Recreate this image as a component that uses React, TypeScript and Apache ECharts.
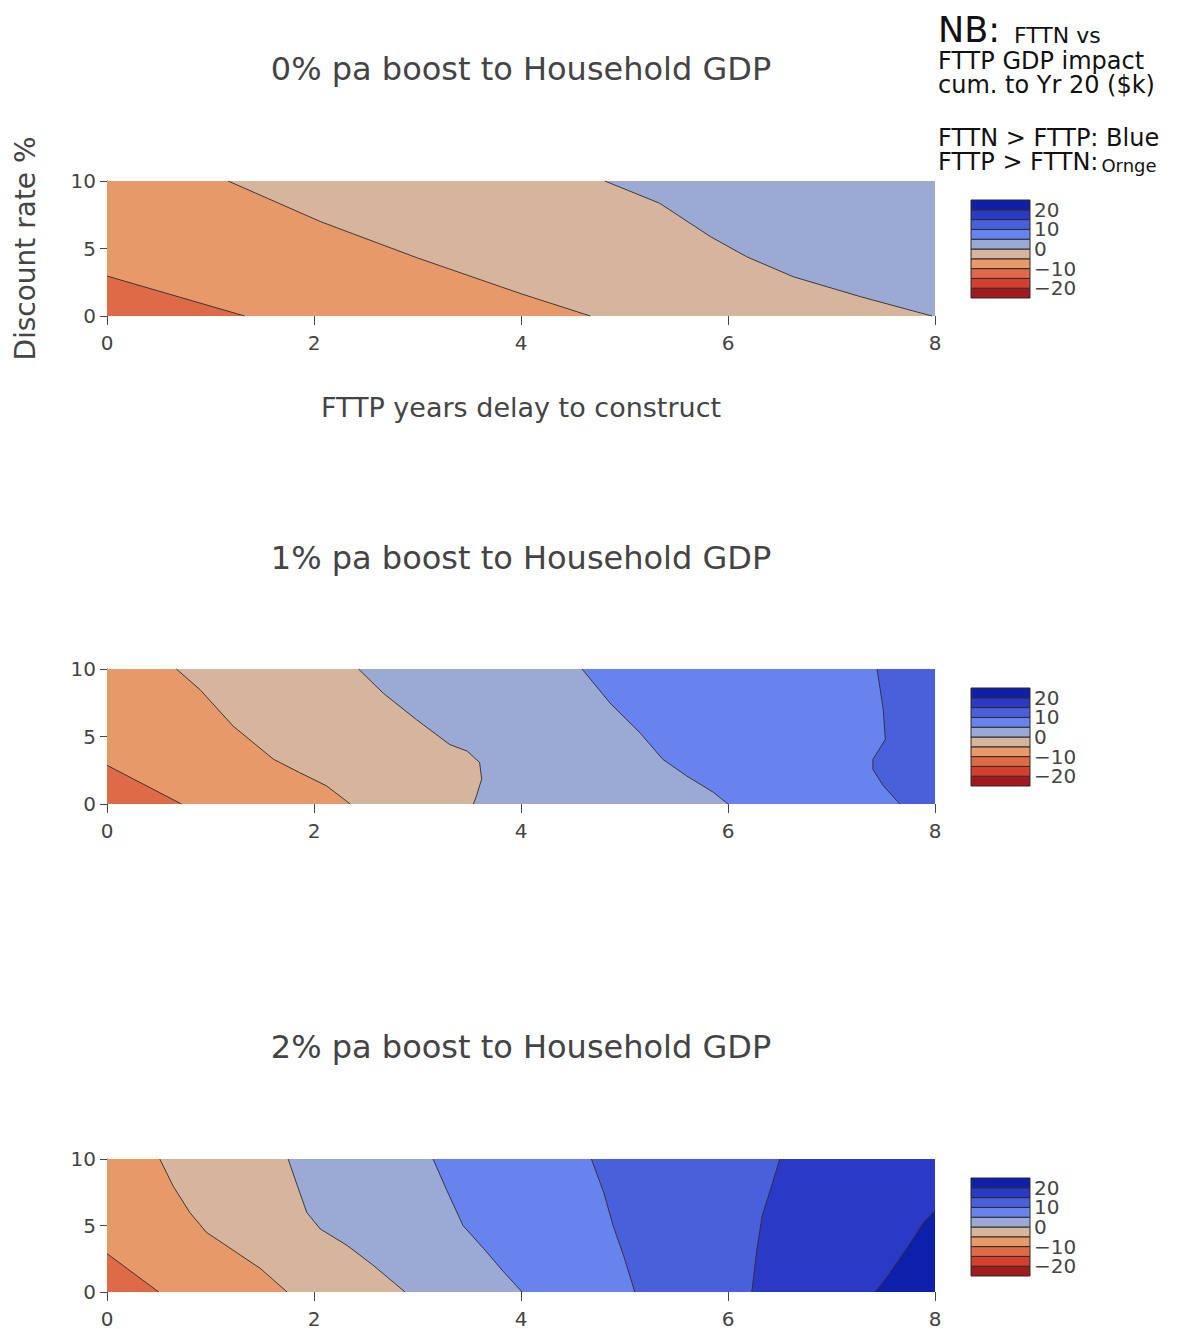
import React, { useEffect, useRef } from 'react';
import * as echarts from 'echarts';

// ---------- data ----------
const panelTitles = [
  '0% pa boost to Household GDP',
  '1% pa boost to Household GDP',
  '2% pa boost to Household GDP',
];
const xAxisTitle = 'FTTP years delay to construct';
const yAxisTitle = 'Discount rate %';

// contour bands (lower bound of each 5-wide band) and their colours
const bandLowerBounds = [-25, -20, -15, -10, -5, 0, 5, 10, 15, 20];
const bandColors = ['#a3191d', '#d4402d', '#df6a47', '#e7996a', '#d6b59c', '#9ba9d5', '#6783ee', '#4a60da', '#2b39c7', '#0e1fa9'];
const colorbarLabels = [-20, -10, 0, 10, 20];

// Panel 0: 0% boost — levels: base region then each contour line's upper band
const p0Levels = [-15, -10, -5, 0];
const p0LineM10 = [[0, 2.96], [1.33, 0]];
const p0LineM5 = [[1.17, 10], [2.06, 7.0], [3.0, 4.3], [4.0, 1.65], [4.67, 0]];
const p0Line0 = [[4.81, 10], [5.34, 8.35], [5.83, 5.88], [6.18, 4.39], [6.63, 2.91], [7.28, 1.43], [7.97, 0]];

// Panel 1: 1% boost
const p1Levels = [-15, -10, -5, 0, 5, 10];
const p1LineM10 = [[0, 2.87], [0.72, 0]];
const p1LineM5 = [[0.67, 10], [0.9, 8.46], [1.22, 5.76], [1.61, 3.31], [1.86, 2.33], [2.12, 1.35], [2.35, 0]];
const p1Line0 = [[2.43, 10], [2.67, 8.2], [2.99, 6.25], [3.31, 4.41], [3.48, 3.92], [3.6, 3.07], [3.62, 1.84], [3.57, 0.61], [3.54, 0]];
const p1Line5 = [[4.59, 10], [4.86, 7.48], [5.15, 5.27], [5.37, 3.31], [5.6, 2.08], [5.86, 0.86], [6.0, 0]];
const p1Line10 = [[7.44, 10], [7.5, 6.99], [7.52, 4.78], [7.4, 3.31], [7.4, 2.57], [7.5, 1.35], [7.66, 0]];

// Panel 2: 2% boost
const p2Levels = [-15, -10, -5, 0, 5, 10, 15, 20];
const p2LineM10 = [[0, 2.89], [0.5, 0]];
const p2LineM5 = [[0.51, 10], [0.64, 7.95], [0.8, 5.98], [0.96, 4.49], [1.29, 2.77], [1.48, 1.78], [1.74, 0]];
const p2Line0 = [[1.75, 10], [1.83, 8.2], [1.93, 5.98], [2.06, 4.74], [2.32, 3.5], [2.57, 2.02], [2.88, 0]];
const p2Line5 = [[3.15, 10], [3.28, 7.7], [3.44, 4.99], [3.64, 3.26], [3.83, 1.53], [4.01, 0]];
const p2Line10 = [[4.68, 10], [4.8, 7.46], [4.89, 4.99], [4.99, 2.76], [5.1, 0]];
const p2Line15 = [[6.5, 10], [6.41, 7.7], [6.33, 5.73], [6.28, 3.26], [6.23, 0]];
const p2Line20 = [[8, 6.1], [7.89, 5.24], [7.79, 4.0], [7.66, 2.52], [7.53, 1.04], [7.42, 0]];

const panelLevels = [p0Levels, p1Levels, p2Levels];
const panelLines: (number[][] | null)[][] = [
  [null, p0LineM10, p0LineM5, p0Line0],
  [null, p1LineM10, p1LineM5, p1Line0, p1Line5, p1Line10],
  [null, p2LineM10, p2LineM5, p2Line0, p2Line5, p2Line10, p2Line15, p2Line20],
];

const X_MIN = 0, X_MAX = 8, X_INT = 2;
const Y_MIN = 0, Y_MAX = 10, Y_INT = 5;
const BAND = 5;
const BAR_MIN = bandLowerBounds[0];
const BAR_MAX = bandLowerBounds[bandLowerBounds.length - 1] + BAND;

// ---------- layout ----------
const plotLeft = 107;
const plotWidth = 828;
const plotHeight = 135;
const plotTops = [181, 669, 1159];
const barLeft = 971;
const barWidth = 59;
const barHeight = 98;
const barOffset = 19;
const titleYs = [69, 558, 1047];

const AX = '#444';
const FONT = 'DejaVu Sans';

function colorFor(level: number) {
  const idx = bandLowerBounds.indexOf(level);
  return bandColors[idx >= 0 ? idx : 0];
}

function regionRightOf(line: number[][]) {
  const pts = line.slice();
  pts.push([X_MAX, Y_MIN]);
  const start = line[0];
  if (start[0] < X_MAX - 1e-9) {
    pts.push([X_MAX, Y_MAX]);
    if (start[1] < Y_MAX - 1e-9) pts.push([X_MIN, Y_MAX]);
  }
  return pts;
}

function contourRenderer(lines: (number[][] | null)[]) {
  return (params: any, api: any) => {
    const i = params.dataIndex;
    const level = api.value(1);
    const fill = colorFor(level);
    const line = lines[i];
    if (!line) {
      const pts = [[X_MIN, Y_MIN], [X_MAX, Y_MIN], [X_MAX, Y_MAX], [X_MIN, Y_MAX]].map((p) => api.coord(p));
      return { type: 'polygon', shape: { points: pts }, style: { fill } };
    }
    return {
      type: 'group',
      children: [
        { type: 'polygon', shape: { points: regionRightOf(line).map((p) => api.coord(p)) }, style: { fill } },
        {
          type: 'polyline',
          shape: { points: line.map((p) => api.coord(p)) },
          style: { stroke: 'rgba(45,45,45,0.9)', lineWidth: 1, fill: null },
        },
      ],
    };
  };
}

function barRenderer(params: any, api: any) {
  const lo = api.value(1);
  const p0 = api.coord([0, lo + BAND]);
  const p1 = api.coord([1, lo]);
  return {
    type: 'rect',
    shape: { x: p0[0], y: p0[1], width: p1[0] - p0[0], height: p1[1] - p0[1] },
    style: { fill: colorFor(lo), stroke: '#2a2a2a', lineWidth: 1 },
  };
}

function barLabelRenderer(params: any, api: any) {
  const v = api.value(1);
  const pt = api.coord([1, v]);
  return {
    type: 'text',
    x: pt[0] + 4,
    y: pt[1],
    style: {
      text: v < 0 ? '\u2212' + Math.abs(v) : String(v),
      fill: AX,
      font: `20px "${FONT}"`,
      textAlign: 'left',
      textVerticalAlign: 'middle',
    },
  };
}

function buildOption() {
  const grid: any[] = [];
  const xAxis: any[] = [];
  const yAxis: any[] = [];
  const series: any[] = [];
  const graphic: any[] = [];

  plotTops.forEach((top, p) => {
    grid.push({ left: plotLeft, top, width: plotWidth, height: plotHeight, containLabel: false });
    grid.push({ left: barLeft, top: top + barOffset, width: barWidth, height: barHeight, containLabel: false });
    const gPlot = p * 2;
    const gBar = p * 2 + 1;

    xAxis.push({
      type: 'value', gridIndex: gPlot, min: X_MIN, max: X_MAX, interval: X_INT,
      axisLine: { show: false, onZero: false },
      axisTick: { show: true, length: 9, lineStyle: { color: AX, width: 1 } },
      axisLabel: { color: AX, fontSize: 20, fontFamily: FONT, margin: 17 },
      splitLine: { show: false },
      name: p === 0 ? xAxisTitle : '',
      nameLocation: 'middle', nameGap: 78,
      nameTextStyle: { color: AX, fontSize: 27, fontFamily: FONT },
    });
    yAxis.push({
      type: 'value', gridIndex: gPlot, min: Y_MIN, max: Y_MAX, interval: Y_INT,
      axisLine: { show: true, lineStyle: { color: AX, width: 1 } },
      axisTick: { show: true, length: 7, lineStyle: { color: AX, width: 1 } },
      axisLabel: { color: AX, fontSize: 20, fontFamily: FONT, margin: 11 },
      splitLine: { show: false },
      name: p === 0 ? yAxisTitle : '',
      nameLocation: 'middle', nameGap: 68, nameRotate: 90,
      nameTextStyle: { color: AX, fontSize: 28, fontFamily: FONT },
    });
    xAxis.push({ type: 'value', gridIndex: gBar, min: 0, max: 1, show: false });
    yAxis.push({ type: 'value', gridIndex: gBar, min: BAR_MIN, max: BAR_MAX, show: false });

    series.push({
      type: 'custom', xAxisIndex: gPlot, yAxisIndex: gPlot,
      renderItem: contourRenderer(panelLines[p]),
      data: panelLevels[p].map((lv, i) => [i, lv]),
      silent: true,
    });
    series.push({
      type: 'custom', xAxisIndex: gBar, yAxisIndex: gBar,
      renderItem: barRenderer,
      data: bandLowerBounds.map((lo, i) => [i, lo]),
      silent: true,
    });
    series.push({
      type: 'custom', xAxisIndex: gBar, yAxisIndex: gBar,
      renderItem: barLabelRenderer,
      data: colorbarLabels.map((v) => [1, v]),
      silent: true,
    });

    graphic.push({
      type: 'text', x: plotLeft + plotWidth / 2, y: titleYs[p],
      style: { text: panelTitles[p], fill: AX, font: `32px "${FONT}"`, textAlign: 'center', textVerticalAlign: 'middle' },
    });
  });

  // annotation block (top right)
  graphic.push({
    type: 'text', x: 938, y: 30,
    style: { text: 'NB:', font: `35px "${FONT}"`, fill: '#111', textAlign: 'left', textVerticalAlign: 'middle' },
  });
  graphic.push({
    type: 'text', x: 1014, y: 35,
    style: { text: 'FTTN vs', font: `22px "${FONT}"`, fill: '#111', textAlign: 'left', textVerticalAlign: 'middle' },
  });
  graphic.push({
    type: 'text', x: 938, y: 49,
    style: {
      text: 'FTTP GDP impact\ncum. to Yr 20 ($k)', font: `24px "${FONT}"`, lineHeight: 24,
      fill: '#111', textAlign: 'left', textVerticalAlign: 'top',
    },
  });
  graphic.push({
    type: 'text', x: 938, y: 126,
    style: {
      text: '{c|FTTN > FTTP: Blue}\n{c|FTTP > FTTN:}{d|Ornge}', textAlign: 'left', textVerticalAlign: 'top', fill: '#111',
      rich: {
        c: { fontSize: 24, fontFamily: FONT, fill: '#111', lineHeight: 24 },
        d: { fontSize: 18, fontFamily: FONT, fill: '#111', lineHeight: 18, verticalAlign: 'bottom', padding: [0, 0, 0, 3] },
      },
    },
  });

  return { animation: false, backgroundColor: '#ffffff', grid, xAxis, yAxis, series, graphic };
}

export default function App() {
  const ref = useRef<HTMLDivElement>(null);
  useEffect(() => {
    if (!ref.current) return;
    const chart = echarts.init(ref.current, undefined, { renderer: 'svg' });
    chart.setOption(buildOption() as any);
    return () => chart.dispose();
  }, []);
  return (
    <div
      ref={ref}
      style={{ position: 'fixed', left: 0, top: 0, width: 1180, height: 1329, background: '#fff' }}
    />
  );
}
